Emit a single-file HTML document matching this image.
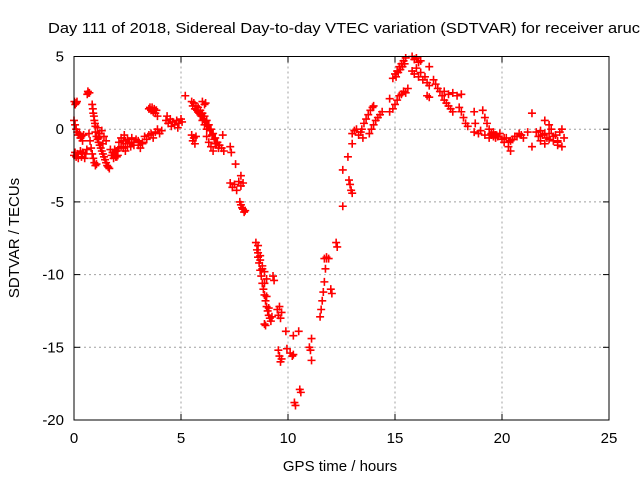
<!DOCTYPE html>
<html><head><meta charset="utf-8"><style>
html,body{margin:0;padding:0;background:#fff;}
svg{display:block;font-family:"Liberation Sans",sans-serif;}
</style></head><body>
<svg id="chart" width="640" height="480" viewBox="0 0 640 480" xmlns="http://www.w3.org/2000/svg">
<rect width="640" height="480" fill="#fff"/>
<text x="48" y="33" font-size="15" textLength="592" lengthAdjust="spacingAndGlyphs">Day 111 of 2018, Sidereal Day-to-day VTEC variation (SDTVAR) for receiver aruc</text>
<g id="grid"></g>
<g id="ticks"></g>
<g id="points"></g>
<rect x="74" y="56.5" width="535" height="363.5" fill="none" stroke="#000" stroke-width="1"/>
<text x="340" y="471" font-size="15" text-anchor="middle">GPS time / hours</text>
<text x="0" y="0" font-size="15" text-anchor="middle" transform="translate(19,238) rotate(-90)">SDTVAR / TECUs</text>
</svg>
<script>
const xTicks=[0,5,10,15,20,25];
const yTicks=[5,0,-5,-10,-15,-20];
const times=[
0.02,0.06,0.1,0.14,
0.65,0.68,0.72,0.62,
0.0,0.05,0.1,0.15,0.2,0.25,0.3,0.35,0.4,0.45,
0.0,0.05,0.1,0.15,0.2,0.3,0.35,0.4,0.5,0.55,0.6,
0.85,0.88,0.9,0.93,0.95,0.98,1.0,
1.0,1.05,1.1,1.15,1.2,1.25,1.3,1.35,1.4,1.45,1.5,1.55,1.6,1.65,
0.7,0.75,0.8,0.85,0.9,0.95,1.0,1.05,
1.1,1.2,1.3,1.4,1.5,1.15,1.35,
1.7,1.75,1.8,1.85,1.9,1.95,2.0,2.05,2.1,
2.1,2.2,2.3,2.35,2.4,2.5,2.6,2.65,2.7,2.8,2.9,3.0,3.1,3.2,3.3,3.4,3.5,
2.3,2.4,2.5,2.6,
3.5,3.55,3.6,3.65,3.7,3.75,3.8,3.85,3.9,
3.6,3.7,3.8,3.9,4.0,4.1,
4.3,4.35,4.4,4.5,4.55,4.6,4.7,4.8,4.85,4.9,5.0,5.05,
5.2,
5.5,5.55,5.6,5.65,5.7,
5.5,5.6,5.7,5.8,5.9,6.0,6.1,6.2,6.3,6.4,6.5,6.6,6.7,6.8,6.9,7.0,
5.8,5.9,6.0,6.1,6.2,
6.0,6.1,6.15,
6.2,6.3,6.4,6.5,6.6,
6.95,7.3,7.35,7.55,7.8,
7.3,7.4,7.5,7.6,7.7,7.8,7.9,
7.75,7.8,7.85,7.9,7.95,8.0,
8.5,8.55,8.6,8.65,8.7,8.75,8.8,8.85,8.9,8.95,9.0,9.05,9.1,9.15,9.2,9.25,
8.6,8.7,8.8,8.9,9.0,
9.3,9.35,
8.9,8.95,
9.5,9.55,9.6,9.65,9.7,
9.55,9.6,9.65,9.7,
9.9,9.95,10.25,10.5,10.3,10.35,10.55,10.6,11.0,11.1,11.1,11.05,
10.1,10.2,10.25,
11.5,11.55,11.6,11.65,11.7,11.75,11.8,
11.7,11.8,11.9,12.0,12.05,
12.25,12.3,12.56,12.56,12.8,12.85,12.9,12.95,13.0,13.0,
13.0,13.1,13.2,13.3,13.4,13.5,
13.45,13.55,13.65,13.75,13.85,13.95,14.0,
13.8,13.9,14.0,14.1,14.2,14.3,14.4,
14.75,14.75,
14.9,15.0,15.1,15.2,15.3,15.4,15.5,15.6,
14.9,15.0,15.1,15.2,15.3,15.4,15.5,
15.8,15.9,16.0,16.1,16.2,
15.8,15.9,16.0,16.1,16.2,16.3,16.4,16.5,16.6,
16.6,16.6,16.5,
16.8,16.9,17.0,17.1,17.2,17.3,17.4,17.5,17.6,17.7,
17.3,17.5,17.7,17.9,18.1,
18.0,18.1,18.2,18.3,18.4,
18.7,18.75,18.7,
19.1,19.2,19.3,19.4,19.5,19.6,19.7,
18.9,19.0,19.2,19.4,19.6,19.8,20.0,20.1,20.2,20.4,20.6,20.8,21.0,21.2,
20.3,20.4,21.4,21.4,
21.6,21.7,21.8,21.9,22.0,22.1,22.2,22.3,22.4,22.5,22.6,22.7,22.8,22.9,22.0,
22.2,22.6,22.8,
5.55,5.65,5.75,5.85,5.95,6.05,6.15,6.25,6.35,6.45,6.55,6.65,6.75,
15.05,15.15,15.25,15.35,15.45,
8.6,8.7,8.8,8.9,9.0,9.1,
19.5,19.7,19.9,20.1,20.3,20.5,20.7,20.9,
21.8,22.0,22.2,22.4,22.6,
1.9,2.0,2.2,2.4,2.8,3.0,3.2
];
const values=[
1.9,1.7,1.8,1.9,
2.6,2.5,2.5,2.4,
0.6,0.3,0.0,-0.2,-0.4,-0.3,-0.6,-0.5,-0.8,-0.4,
-1.8,-1.6,-1.9,-1.7,-2.0,-1.5,-1.9,-1.6,-2.0,-1.7,-1.4,
1.7,1.4,1.1,0.9,0.6,0.4,0.2,
-0.2,-0.5,-0.7,-0.9,-1.1,-1.3,-1.5,-1.7,-1.9,-2.1,-2.3,-2.5,-2.6,-2.7,
-0.3,-0.8,-1.3,-1.7,-2.0,-2.3,-2.5,-2.4,
0.1,-0.3,-0.1,-0.5,-0.8,-0.6,-1.0,
-1.4,-1.8,-1.6,-2.0,-1.7,-1.9,-1.5,-1.8,-1.3,
-0.9,-0.6,-0.8,-0.4,-1.0,-0.7,-0.9,-1.2,-0.6,-0.9,-0.7,-1.1,-1.3,-0.9,-0.5,-0.7,-0.4,
-1.3,-1.5,-1.2,-1.0,
1.4,1.5,1.3,1.5,1.2,1.4,1.1,1.3,0.9,
-0.3,-0.6,-0.2,0.0,-0.3,-0.1,
0.6,0.9,0.4,0.7,0.2,0.5,0.3,0.6,0.1,0.4,0.7,0.5,
2.3,
-0.4,-0.8,-0.6,-1.0,-0.5,
1.9,1.8,1.6,1.5,1.3,1.1,0.9,0.6,0.3,0.0,-0.3,-0.6,-0.9,-1.1,-1.3,-1.5,
1.2,1.0,0.6,0.3,0.0,
1.9,1.7,1.8,
-0.5,-0.9,-1.2,-1.5,-1.0,
-0.4,-1.2,-1.6,-2.4,-3.2,
-3.7,-4.0,-3.8,-4.2,-3.6,-3.9,-3.7,
-5.0,-5.2,-5.4,-5.5,-5.7,-5.6,
-7.8,-8.3,-8.8,-9.2,-9.7,-10.1,-10.6,-11.0,-11.4,-11.8,-12.2,-12.5,-12.8,-13.0,-13.2,-12.9,
-8.5,-9.0,-9.4,-9.8,-10.3,
-10.1,-10.4,
-13.4,-13.5,
-12.4,-12.8,-12.2,-13.0,-12.6,
-15.2,-15.6,-16.0,-15.8,
-13.9,-15.1,-14.2,-13.9,-18.8,-19.0,-17.9,-18.1,-15.0,-15.9,-14.4,-15.2,
-15.4,-15.6,-15.5,
-12.9,-12.4,-11.8,-11.2,-10.5,-9.6,-8.9,
-8.9,-8.8,-8.9,-11.0,-11.3,
-7.8,-8.1,-5.3,-2.8,-1.9,-3.5,-3.8,-4.2,-4.4,-1.0,
-0.3,-0.1,0.0,-0.4,-0.2,-0.6,
0.0,0.4,0.7,1.0,1.3,1.5,1.6,
-0.3,0.0,0.3,0.6,0.8,1.0,1.2,
1.2,2.1,
1.4,1.7,2.0,2.3,2.4,2.6,2.5,2.8,
3.5,3.8,4.0,4.3,4.5,4.7,4.9,
5.0,4.8,4.9,4.6,4.7,
4.0,3.8,4.2,3.6,3.9,3.4,3.6,3.2,3.0,
4.3,2.2,2.3,
3.4,3.1,2.8,2.6,2.3,2.0,1.8,1.6,1.4,1.2,
2.6,2.4,2.5,2.3,2.4,
1.5,1.2,0.8,0.4,0.2,
1.2,0.4,-0.2,
1.3,0.8,0.4,0.0,-0.3,-0.5,-0.4,
-0.3,-0.1,-0.4,-0.6,-0.2,-0.5,-0.7,-0.9,-0.6,-0.8,-0.5,-0.3,-0.6,-0.2,
-1.2,-1.5,1.1,-1.2,
-0.2,-0.5,-0.8,-0.4,-1.0,-0.6,-0.3,0.0,-0.8,-0.4,-1.1,-0.2,0.0,-0.6,0.6,
0.3,-0.9,-1.2,
1.6,1.4,1.3,1.1,0.9,0.7,0.5,0.2,-0.1,-0.4,-0.7,-1.0,-1.3,
3.6,3.9,4.1,4.3,4.5,
-8.0,-8.7,-9.6,-10.6,-11.5,-12.3,
-0.4,-0.6,-0.3,-0.6,-0.9,-0.7,-0.5,-0.4,
-0.1,-0.3,-0.7,-0.5,-0.8,
-1.4,-1.9,-1.2,-0.8,-1.1,-0.8,-1.0
];
const NS='http://www.w3.org/2000/svg';
const L=74,R=609,T=56.5,B=420;
function xs(t){return L+(t-0)/(25-0)*(R-L);}
function ys(v){return B-(v-(-20))/(5-(-20))*(B-T);}
function mk(tag,attrs,parent){const e=document.createElementNS(NS,tag);for(const k in attrs)e.setAttribute(k,attrs[k]);parent.appendChild(e);return e;}
const grid=document.getElementById('grid'),ticks=document.getElementById('ticks'),pts=document.getElementById('points');
xTicks.forEach(t=>{
  const x=xs(t);
  if(t>0&&t<25){const g=mk('line',{x1:x,x2:x,y1:T,y2:B,stroke:'#a0a0a0','stroke-dasharray':'2,3'},grid);
  
  }
  mk('line',{x1:x,x2:x,y1:B,y2:B-6,stroke:'#000'},ticks);
  mk('line',{x1:x,x2:x,y1:T,y2:T+6,stroke:'#000'},ticks);
  const lb=mk('text',{x:x,y:443,'font-size':15,'text-anchor':'middle'},ticks);
  lb.textContent=t;
  
  
});
yTicks.forEach(v=>{
  const y=ys(v);
  if(v>-20&&v<5){const g=mk('line',{x1:L,x2:R,y1:y,y2:y,stroke:'#a0a0a0','stroke-dasharray':'2,3'},grid);
  
  }
  mk('line',{x1:L,x2:L+6,y1:y,y2:y,stroke:'#000'},ticks);
  mk('line',{x1:R,x2:R-6,y1:y,y2:y,stroke:'#000'},ticks);
  const lb=mk('text',{x:64,y:y+5,'font-size':15,'text-anchor':'end'},ticks);
  lb.textContent=v;
  
  
});
let d='';
for(let i=0;i<times.length;i++){
  const x=xs(times[i]),y=ys(values[i]);
  d+='M'+(x-4)+' '+y+'h8M'+x+' '+(y-4)+'v8';
}
const p=mk('path',{d:d,stroke:'#ff0000','stroke-width':1.6,fill:'none'},pts);


</script>
</body></html>
